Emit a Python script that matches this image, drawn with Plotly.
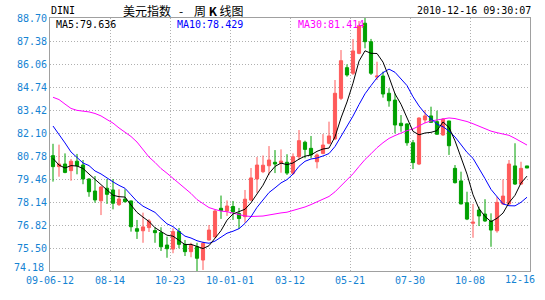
import plotly.graph_objects as go

# ---------------- data ----------------
opens = [80.80, 80.17, 80.32, 79.94, 80.48, 80.26, 79.46, 78.77, 78.21, 78.93,
         78.83, 77.99, 78.31, 78.20, 76.61, 76.49, 76.67, 76.50, 76.38, 75.67,
         75.44, 76.44, 75.71, 75.29, 75.57, 74.81, 75.96, 76.13, 77.78, 77.62,
         77.88, 77.48, 77.30, 78.25, 79.46, 79.88, 80.22, 80.42, 80.36, 80.42,
         79.79, 80.74, 81.57, 81.22, 80.45, 80.93, 81.51, 81.76, 84.09, 85.85,
         85.53, 86.67, 88.40, 87.34, 85.31, 85.37, 84.38, 83.99, 82.66, 82.62,
         81.54, 80.32, 82.85, 83.08, 82.75, 81.99, 82.79, 80.07, 79.35, 78.10,
         76.92, 77.68, 77.45, 77.05, 76.49, 78.03, 78.03, 80.21, 79.17, 80.21]
highs = [81.48, 81.43, 80.93, 80.61, 80.90, 80.55, 79.50, 79.63, 79.05, 79.46,
         79.46, 78.87, 78.87, 78.22, 77.11, 77.53, 77.16, 76.69, 76.69, 76.15,
         76.63, 76.65, 75.96, 75.80, 75.80, 75.86, 76.82, 77.68, 78.51, 78.23,
         78.20, 77.80, 78.83, 80.09, 80.72, 80.81, 81.35, 81.12, 81.16, 80.88,
         80.93, 82.27, 81.66, 81.93, 80.93, 82.04, 82.75, 85.14, 86.86, 86.04,
         87.49, 88.53, 88.70, 87.50, 86.19, 85.62, 84.67, 84.38, 83.13, 82.66,
         81.70, 83.00, 83.42, 83.61, 83.38, 82.96, 82.80, 80.26, 79.88, 78.73,
         78.03, 77.87, 78.30, 77.49, 78.44, 79.44, 80.55, 81.51, 80.45, 80.21]
lows = [79.31, 79.59, 79.79, 79.36, 79.73, 79.16, 78.44, 78.10, 77.39, 78.03,
        77.72, 77.91, 78.10, 76.44, 76.02, 75.80, 76.42, 75.80, 75.33, 74.94,
        75.20, 75.48, 75.04, 74.97, 74.18, 74.24, 75.93, 76.12, 77.17, 77.34,
        77.11, 76.59, 76.95, 78.20, 78.66, 79.80, 79.69, 79.80, 79.82, 79.69,
        79.69, 80.55, 80.65, 80.65, 80.07, 80.88, 81.45, 81.70, 83.99, 85.33,
        85.43, 86.62, 86.96, 85.43, 85.14, 84.13, 83.61, 82.08, 82.17, 81.37,
        80.03, 80.26, 82.66, 82.70, 82.00, 81.93, 80.84, 79.20, 78.00, 77.10,
        76.09, 76.76, 77.00, 75.57, 76.38, 77.97, 77.97, 79.12, 79.12, 80.09]
closes = [80.17, 80.32, 79.84, 80.48, 80.22, 79.46, 78.73, 78.26, 79.00, 78.58,
          78.07, 78.31, 78.16, 76.72, 76.46, 76.71, 77.05, 76.38, 75.57, 75.46,
          76.44, 75.71, 75.29, 75.66, 74.91, 75.77, 76.53, 77.62, 77.65, 77.91,
          77.57, 77.19, 78.30, 79.52, 80.26, 80.25, 80.55, 80.32, 80.49, 79.80,
          80.74, 81.66, 81.16, 80.84, 80.84, 81.41, 81.93, 84.38, 86.25, 85.43,
          86.81, 88.26, 87.34, 85.53, 85.37, 84.34, 83.95, 82.56, 82.52, 81.54,
          80.40, 82.96, 83.08, 82.71, 82.03, 82.89, 81.37, 79.25, 78.03, 77.16,
          76.98, 77.34, 77.05, 76.53, 78.12, 78.48, 80.32, 79.17, 80.07, 80.09]

# moving-average values for the weeks before a full window exists
ma5_lead = [80.64, 80.26, 80.09, 80.23]
ma10_lead = [82.50, 82.04, 81.53, 81.01, 80.67, 80.38, 80.23, 79.92, 79.75]
ma30_lead = [84.15, 84.02, 83.76, 83.51, 83.40, 83.36, 83.31, 83.22, 83.08, 82.87,
             82.67, 82.39, 82.16, 81.90, 81.58, 81.12, 80.72, 80.41, 80.06, 79.79,
             79.49, 79.23, 78.94, 78.63, 78.28, 78.03, 77.82, 77.71, 77.62]

x_labels = ["09-06-12", "08-14", "10-23", "10-01-01", "03-12", "05-21", "07-30", "10-08", "12-16"]
y_ticks = [74.18, 75.50, 76.82, 78.14, 79.46, 80.78, 82.10, 83.42, 84.74, 86.06, 87.38, 88.70]
ma_texts = ["MA5:79.636", "MA10:78.429", "MA30:81.414"]
symbol = "DINI"
title_text = "美元指数\u00a0\u00a0\u00a0-\u00a0\u00a0\u00a0\u00a0周\u00a0<b>K</b>\u00a0线图"
stamp = "2010-12-16 09:30:07"

# ---------------- build ----------------
n = len(closes)
xs = list(range(n))


def moving(lead, w):
    out = list(lead)
    for i in range(len(lead), n):
        out.append(sum(closes[i - w + 1:i + 1]) / w)
    return out


ma5 = moving(ma5_lead, 5)
ma10 = moving(ma10_lead, 10)
ma30 = moving(ma30_lead, 30)

RED = "#FF5A5A"
GREEN = "#00A000"
TICK = "#1583D3"
GRID = "#B0B0B0"
FRAME = "#A0A0A0"
MONO = "DejaVu Sans Mono"

L, R, T, B = 50, 15, 18, 29
PW, PH = 545 - L - R, 300 - T - B


def px_x(px):
    return (px - L) / PW


def px_y(py):
    return 1 - (py - T) / PH


fig = go.Figure()
fig.add_trace(go.Candlestick(
    x=xs, open=opens, high=highs, low=lows, close=closes,
    increasing=dict(line=dict(color=RED, width=1), fillcolor=RED),
    decreasing=dict(line=dict(color=GREEN, width=1), fillcolor=GREEN),
    whiskerwidth=0, hoverinfo="skip", showlegend=False,
))
for vals, col in [(ma30, "#FF00FF"), (ma10, "#0000FF"), (ma5, "#000000")]:
    fig.add_trace(go.Scatter(x=xs, y=vals, mode="lines",
                             line=dict(color=col, width=1),
                             hoverinfo="skip", showlegend=False))

tick_pos = [-0.5 + 10 * i for i in range(len(x_labels) - 1)]

fig.update_layout(
    width=545, height=300,
    margin=dict(l=L, r=R, t=T, b=B),
    paper_bgcolor="white", plot_bgcolor="white",
    boxgap=0.25,
    xaxis=dict(
        range=[-0.5, n - 0.5], rangeslider=dict(visible=False),
        tickmode="array", tickvals=tick_pos + [n - 0.5], ticktext=x_labels[:-1] + [""],
        showgrid=True, gridcolor=GRID, griddash="1px,2px", gridwidth=1,
        showline=True, mirror=True, linecolor=FRAME, linewidth=1,
        ticks="", zeroline=False,
        tickfont=dict(family=MONO, size=10, color=TICK),
        fixedrange=True,
    ),
    yaxis=dict(
        range=[y_ticks[0], y_ticks[-1]],
        tickmode="array", tickvals=y_ticks,
        ticktext=[""] + [f"{v:.2f}" for v in y_ticks[1:]],
        showgrid=True, gridcolor=GRID, griddash="1px,2px", gridwidth=1,
        showline=True, mirror=True, linecolor=FRAME, linewidth=1,
        ticks="", zeroline=False,
        tickfont=dict(family=MONO, size=10, color=TICK),
        fixedrange=True,
    ),
)

ann = []
# bottom y label lifted to stay above the date row
ann.append(dict(x=px_x(46), y=px_y(267), xref="paper", yref="paper", text=f"{y_ticks[0]:.2f}",
                showarrow=False, xanchor="right", yanchor="middle",
                font=dict(family=MONO, size=10, color=TICK)))
# last x label, right-aligned past the frame edge
ann.append(dict(x=px_x(537), y=px_y(279), xref="paper", yref="paper", text=x_labels[-1],
                showarrow=False, xanchor="right", yanchor="middle",
                font=dict(family=MONO, size=10, color=TICK)))
# header row
ann.append(dict(x=px_x(49), y=px_y(11), xref="paper", yref="paper", text=symbol, showarrow=False,
                xanchor="left", yanchor="middle",
                font=dict(family=MONO, size=10, color="black")))
ann.append(dict(x=px_x(121), y=px_y(11), xref="paper", yref="paper", text=title_text,
                showarrow=False, xanchor="left", yanchor="middle",
                font=dict(family="Noto Sans CJK SC", size=12, color="black")))
ann.append(dict(x=px_x(533), y=px_y(11), xref="paper", yref="paper", text=stamp,
                showarrow=False, xanchor="right", yanchor="middle",
                font=dict(family=MONO, size=10, color="black")))
# MA labels inside the frame
for txt, px, col in zip(ma_texts, [54, 175, 296], ["#000000", "#0000FF", "#FF00FF"]):
    ann.append(dict(x=px_x(px), y=px_y(24.5), xref="paper", yref="paper", text=txt,
                    showarrow=False, xanchor="left", yanchor="middle",
                    font=dict(family=MONO, size=10, color=col)))
fig.update_layout(annotations=ann)

fig.write_html("out.html", config=dict(displayModeBar=False, staticPlot=True))
